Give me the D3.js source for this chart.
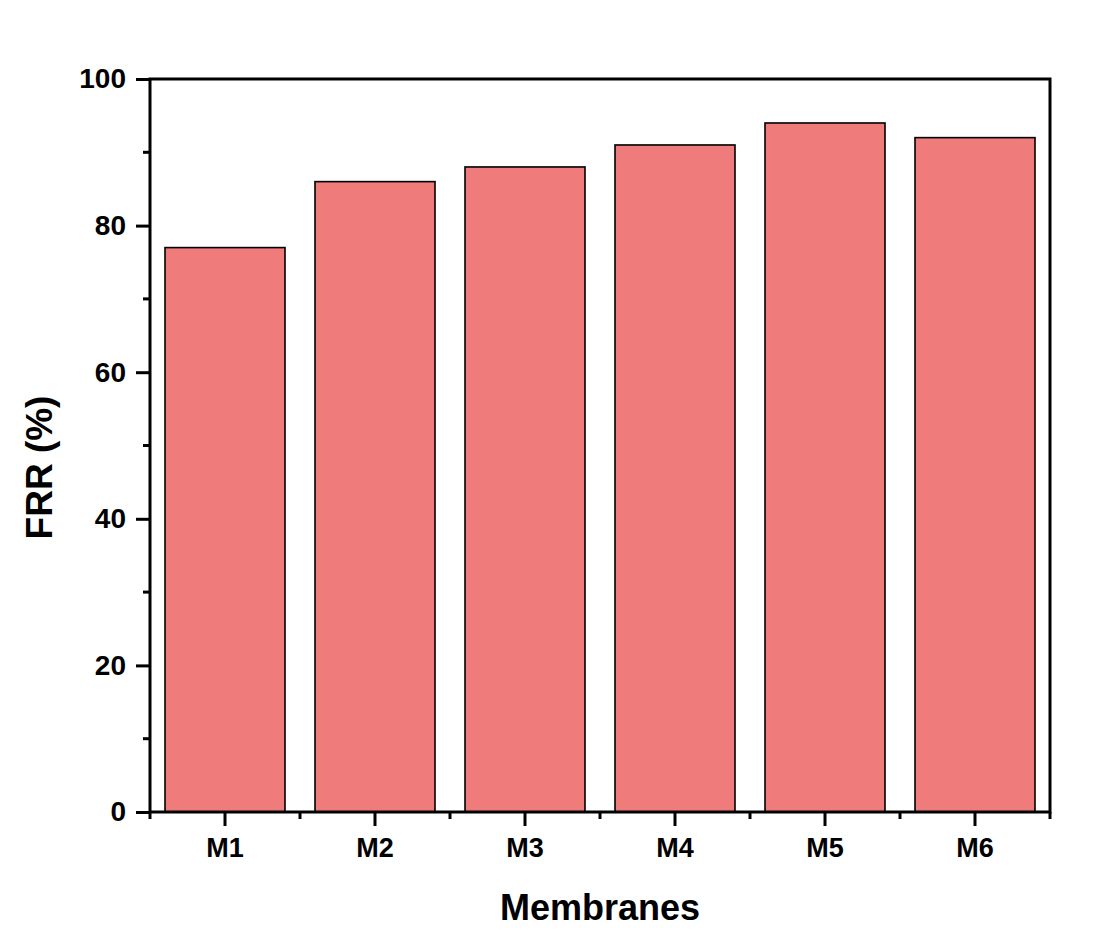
<!DOCTYPE html>
<html>
<head>
<meta charset="utf-8">
<script src="https://cdn.jsdelivr.net/npm/d3@7"></script>
<style>
  body { margin: 0; background: #fff; }
  text { font-family: Arial, "Liberation Sans", sans-serif; font-weight: bold; fill: #000; }
</style>
</head>
<body>
<svg id="chart"></svg>
<script>
const membranes = ["M1", "M2", "M3", "M4", "M5", "M6"];
const frr = [77, 86, 88, 91, 94, 92];
const yMajorTicks = [0, 20, 40, 60, 80, 100];
const yMinorTicks = [10, 30, 50, 70, 90];

const width = 1120, height = 931;
const marginLeft = 150, marginRight = 70, marginTop = 79, marginBottom = 119;
const barColor = "#f07b7b";
const tickFont = 27;

const x = d3.scaleBand()
    .domain(membranes)
    .range([marginLeft, width - marginRight])
    .paddingInner(0.2)
    .paddingOuter(0.1);

const y = d3.scaleLinear()
    .domain([0, 100])
    .range([height - marginBottom, marginTop]);

const svg = d3.select("#chart")
    .attr("width", width)
    .attr("height", height)
    .attr("viewBox", [0, 0, width, height]);

// bars
svg.append("g")
    .selectAll("rect")
    .data(membranes)
    .join("rect")
    .attr("x", d => x(d))
    .attr("y", (d, i) => y(frr[i]))
    .attr("width", x.bandwidth())
    .attr("height", (d, i) => y(0) - y(frr[i]))
    .attr("fill", barColor)
    .attr("stroke", "#000")
    .attr("stroke-width", 1.6);

const x0 = marginLeft, x1 = width - marginRight;
const y0 = height - marginBottom, y1 = marginTop;

// frame
svg.append("rect")
    .attr("x", x0)
    .attr("y", y1)
    .attr("width", x1 - x0)
    .attr("height", y0 - y1)
    .attr("fill", "none")
    .attr("stroke", "#000")
    .attr("stroke-width", 3);

// y axis
const yAxis = svg.append("g").attr("transform", `translate(${x0},0)`);
yAxis.call(d3.axisLeft(y).tickValues(yMajorTicks).tickSize(14).tickPadding(10).tickFormat(d3.format("d")))
    .call(g => g.select(".domain").remove())
    .call(g => g.selectAll("line").attr("stroke-width", 3))
    .call(g => g.selectAll("text")
        .attr("font-size", tickFont + 1)
        .attr("font-family", "Arial, 'Liberation Sans', sans-serif")
        .attr("font-weight", "bold"));
yAxis.selectAll(".minor")
    .data(yMinorTicks)
    .join("line")
    .attr("class", "minor")
    .attr("x1", -7).attr("x2", 0)
    .attr("y1", d => y(d)).attr("y2", d => y(d))
    .attr("stroke", "#000")
    .attr("stroke-width", 3);

// x axis
const xAxis = svg.append("g").attr("transform", `translate(0,${y0})`);
xAxis.call(d3.axisBottom(x).tickSize(14).tickPadding(12))
    .call(g => g.select(".domain").remove())
    .call(g => g.selectAll("line").attr("stroke-width", 3))
    .call(g => g.selectAll("text")
        .attr("font-size", tickFont)
        .attr("font-family", "Arial, 'Liberation Sans', sans-serif")
        .attr("font-weight", "bold"));
const edges = membranes.map(d => x(d) - x.step() * x.paddingInner() / 2)
    .concat([x(membranes[membranes.length - 1]) + x.bandwidth() + x.step() * x.paddingInner() / 2]);
xAxis.selectAll(".minor")
    .data(edges)
    .join("line")
    .attr("class", "minor")
    .attr("x1", d => d).attr("x2", d => d)
    .attr("y1", 0).attr("y2", 7)
    .attr("stroke", "#000")
    .attr("stroke-width", 3);

// titles
svg.append("text")
    .attr("x", (x0 + x1) / 2)
    .attr("y", 920)
    .attr("text-anchor", "middle")
    .attr("font-size", 36)
    .text("Membranes");

svg.append("text")
    .attr("transform", `translate(52,${(y0 + y1) / 2 + 22}) rotate(-90)`)
    .attr("text-anchor", "middle")
    .attr("font-size", 37)
    .text("FRR (%)");
</script>
</body>
</html>
